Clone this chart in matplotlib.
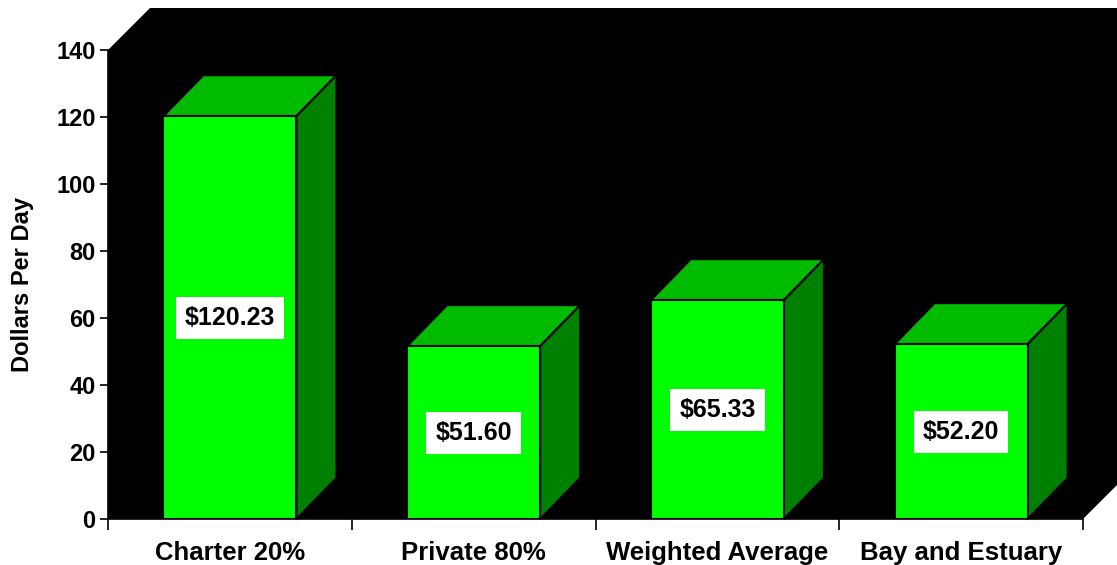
import matplotlib
matplotlib.use("Agg")
import matplotlib.pyplot as plt
from matplotlib.patches import Polygon
import numpy as np

categories = ["Charter 20%", "Private 80%", "Weighted Average", "Bay and Estuary"]
values = [120.23, 51.60, 65.33, 52.20]
value_labels = ["$120.23", "$51.60", "$65.33", "$52.20"]
y_ticks = [0, 20, 40, 60, 80, 100, 120, 140]

FRONT = "#00ff00"
TOP = "#00bb00"
SIDE = "#008000"

plt.rcParams["font.family"] = ["Liberation Sans", "DejaVu Sans"]
plt.rcParams["font.weight"] = "bold"

W, H, DPI = 1117, 565, 100
fig = plt.figure(figsize=(W / DPI, H / DPI), dpi=DPI)
fig.patch.set_facecolor("white")
ax = fig.add_axes([108 / W, 46 / H, 975 / W, 469 / H])
ax.set_xlim(0, 4)
ax.set_ylim(0, 140)
ax.set_facecolor("black")

x = np.arange(len(categories)) + 0.5
bar_w = 0.546


def px_to_data(dx_px, dy_px):
    inv = ax.transData.inverted()
    o = ax.transData.transform((0, 0))
    p = inv.transform((o[0] + dx_px, o[1] + dy_px))
    return p[0], p[1]


# depth of the back wall and of the bars, in pixels
wdx, wdy = px_to_data(42, 42)
bdx, bdy = px_to_data(40, 41)

wall = Polygon([(0, 0), (0, 140), (wdx, 140 + wdy), (4 + wdx, 140 + wdy),
                (4 + wdx, wdy), (4, 0)],
               closed=True, facecolor="black", edgecolor="none",
               clip_on=False, zorder=0)
ax.add_patch(wall)

bars = ax.bar(x, values, width=bar_w, color=FRONT, edgecolor="black",
              linewidth=1.5, zorder=3)

for xi, v, lab in zip(x, values, value_labels):
    x0, x1 = xi - bar_w / 2, xi + bar_w / 2
    top = Polygon([(x0, v), (x1, v), (x1 + bdx, v + bdy), (x0 + bdx, v + bdy)],
                  closed=True, facecolor=TOP, edgecolor="black",
                  linewidth=1.5, clip_on=False, zorder=2)
    side = Polygon([(x1, 0), (x1, v), (x1 + bdx, v + bdy), (x1 + bdx, bdy)],
                   closed=True, facecolor=SIDE, edgecolor="black",
                   linewidth=1.5, clip_on=False, zorder=2)
    ax.add_patch(top)
    ax.add_patch(side)
    ax.text(xi, v / 2, lab, ha="center", va="center", fontsize=18,
            fontweight="bold", color="black", zorder=5,
            bbox=dict(boxstyle="square,pad=0.36", facecolor="white",
                      edgecolor="none"))

for s in ["top", "right"]:
    ax.spines[s].set_visible(False)
for s in ["left", "bottom"]:
    ax.spines[s].set_color("black")
    ax.spines[s].set_linewidth(1.2)
    ax.spines[s].set_zorder(6)

ax.set_yticks(y_ticks)
ax.set_yticklabels([str(t) for t in y_ticks], fontsize=17, fontweight="bold")
ax.tick_params(axis="y", direction="out", length=6, width=1.2, pad=3)

ax.set_xticks([0, 1, 2, 3, 4])
ax.set_xticklabels([])
ax.tick_params(axis="x", which="major", direction="out", length=8, width=1.2)
ax.set_xticks(x, minor=True)
ax.set_xticklabels(categories, minor=True, fontsize=18.5, fontweight="bold")
ax.tick_params(axis="x", which="minor", length=0, pad=16)

ax.set_ylabel("Dollars Per Day", fontsize=17, fontweight="bold", labelpad=16)

fig.savefig("out.png", dpi=DPI, facecolor="white")
